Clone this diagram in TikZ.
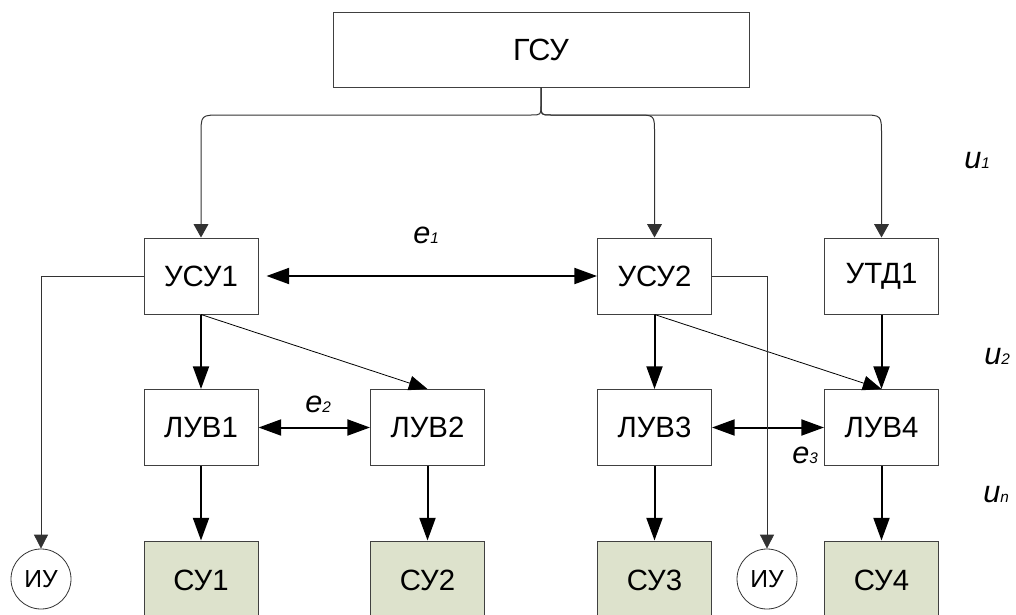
\documentclass[tikz,border=0pt]{standalone}
\usepackage{fontspec}
\setmainfont{Liberation Sans}
\usetikzlibrary{arrows.meta}
\definecolor{sufill}{RGB}{221,226,204}
\definecolor{edge}{RGB}{64,64,64}
\definecolor{wire}{RGB}{50,50,50}
% italic symbol with a small index on the baseline
\newcommand{\sym}[2]{{\fontsize{23}{27}\selectfont\itshape #1}{\fontsize{11.5}{14}\selectfont\itshape #2}}
\begin{document}
\begin{tikzpicture}[x=0.75pt,y=-0.75pt,
  box/.style={draw=edge, line width=0.75pt, minimum width=85.5pt, minimum height=57pt,
              inner sep=0pt, font=\fontsize{22}{26}\selectfont},
  subbox/.style={box, fill=sufill, minimum height=59.25pt},
  topbox/.style={box, minimum width=312pt, minimum height=56.25pt, font=\fontsize{23}{27}\selectfont},
  iunode/.style={circle, draw=black!80, line width=0.6pt, minimum size=45pt, inner sep=0pt,
                 font=\fontsize{18.5}{22}\selectfont},
  bigarrow/.style={line width=1.5pt, -{Triangle[length=17pt,width=12pt]}},
  twoway/.style={line width=1.5pt, {Triangle[length=17pt,width=12pt]}-{Triangle[length=17pt,width=12pt]}},
  feed/.style={draw=wire, line width=0.75pt, -{Triangle[length=10pt,width=11pt]}},
  side/.style={draw=wire, line width=0.6pt, -{Triangle[length=10.5pt,width=10.5pt]}},
  slant/.style={line width=0.6pt, -{Triangle[length=14pt,width=11pt]}},
  sym/.style={anchor=base west, inner sep=0pt}
]
\useasboundingbox (0,0) rectangle (1016,614);

% control units
\node[topbox] (gsu) at (541,49.5) {ГСУ};
\node[box] (usu1) at (201,276) {УСУ1};
\node[box] (usu2) at (654.5,276) {УСУ2};
\node[box] (utd1) at (881.5,276) {УТД1};

% local units
\node[box] (luv1) at (201,427.5) {ЛУВ1};
\node[box] (luv2) at (427.5,427.5) {ЛУВ2};
\node[box] (luv3) at (654.5,427.5) {ЛУВ3};
\node[box] (luv4) at (881.5,427.5) {ЛУВ4};

% controlled objects
\node[subbox] (su1) at (201,580.5) {СУ1};
\node[subbox] (su2) at (427.5,580.5) {СУ2};
\node[subbox] (su3) at (654.5,580.5) {СУ3};
\node[subbox] (su4) at (881.5,580.5) {СУ4};
\node[iunode] (iu1) at (41,579) {ИУ};
\node[iunode] (iu2) at (767,579) {ИУ};

% distribution from the top unit
\draw[feed] (gsu.south) -- (541,105) .. controls (541,115) .. (531,115)
  -- (221,115) .. controls (201,115) .. (201,135) -- (usu1.north);
\draw[feed] (gsu.south) -- (541,105) .. controls (541,115) .. (551,115)
  -- (636.5,115) .. controls (654.5,115) .. (654.5,133) -- (usu2.north);
\draw[feed] (gsu.south) -- (541,105) .. controls (541,115) .. (551,115)
  -- (861.5,115) .. controls (881.5,115) .. (881.5,135) -- (utd1.north);

% links between units
\draw[twoway, shorten <=6pt] (usu1.east) -- (usu2.west);
\draw[twoway] (luv1.east) -- (luv2.west);
\draw[twoway] (luv3.east) -- (luv4.west);

\draw[bigarrow] (usu1.south) -- (luv1.north);
\draw[slant] (usu1.south) -- (luv2.north);
\draw[bigarrow] (usu2.south) -- (luv3.north);
\draw[slant] (usu2.south) -- (luv4.north);
\draw[bigarrow] (utd1.south) -- (luv4.north);

\draw[bigarrow] (luv1.south) -- (su1.north);
\draw[bigarrow] (luv2.south) -- (su2.north);
\draw[bigarrow] (luv3.south) -- (su3.north);
\draw[bigarrow] (luv4.south) -- (su4.north);

\draw[side] (usu1.west) -| (iu1.north);
\draw[side] (usu2.east) -| (iu2.north);

% signal labels
\node[sym] (e1) at (413,243) {\sym{e}{1}};
\node[sym] (e2) at (305,412) {\sym{e}{2}};
\node[sym] (e3) at (792,463) {\sym{e}{3}};
\node[sym] (u1) at (964,168) {\sym{u}{1}};
\node[sym] (u2) at (984,364) {\sym{u}{2}};
\node[sym] (un) at (983,502) {\sym{u}{n}};
\end{tikzpicture}
\end{document}
